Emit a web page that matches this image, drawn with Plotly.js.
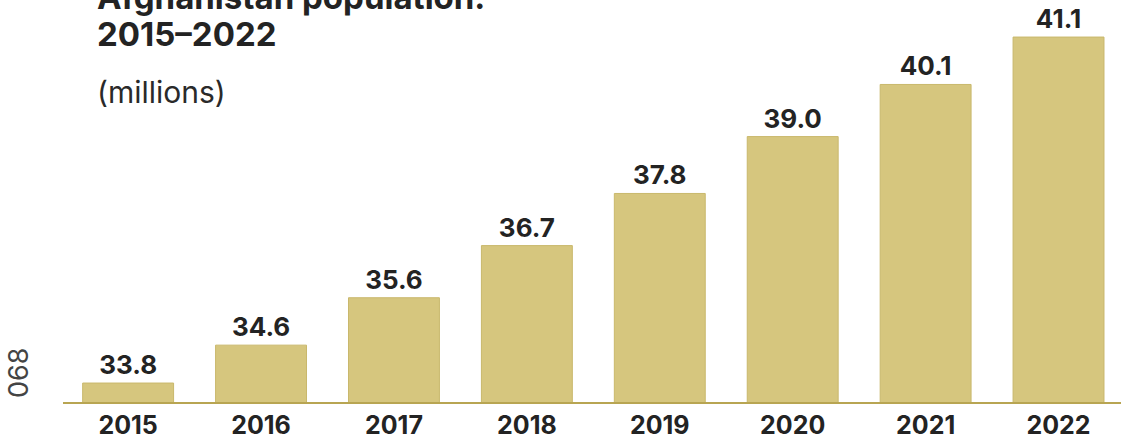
<!DOCTYPE html>
<html>
<head>
<meta charset="utf-8">
<script src="https://cdn.plot.ly/plotly-3.0.1.min.js"></script>
<style>html,body{margin:0;padding:0;background:#fff;}#chart{width:1121px;height:441px;}</style>
</head>
<body>
<div id="chart"></div>
<script>
const years = ["2015","2016","2017","2018","2019","2020","2021","2022"];
const population = [33.8, 34.6, 35.6, 36.7, 37.8, 39.0, 40.1, 41.1];
const valueLabels = ["33.8","34.6","35.6","36.7","37.8","39.0","40.1","41.1"];

const FONT = "Inter, 'Open Sans', sans-serif";
const PLOT_TOP = 20, PLOT_BOTTOM = 402, PLOT_LEFT = 63, PLOT_W = 1058;
const py = p => (PLOT_BOTTOM - p) / (PLOT_BOTTOM - PLOT_TOP);
const px = p => (p - PLOT_LEFT) / PLOT_W;

const trace = {
  type: 'bar',
  x: years,
  y: population,
  text: valueLabels,
  textposition: 'outside',
  cliponaxis: false,
  textfont: {family: FONT, size: 26, color: '#232323', weight: 700},
  marker: {color: '#d6c67e', line: {color: '#c9b86c', width: 1}},
  hoverinfo: 'none'
};

const layout = {
  width: 1121, height: 441,
  margin: {l: PLOT_LEFT, r: 0, t: PLOT_TOP, b: 441 - PLOT_BOTTOM},
  paper_bgcolor: '#ffffff', plot_bgcolor: '#ffffff',
  bargap: 0.316,
  showlegend: false,
  xaxis: {
    type: 'category',
    range: [-0.49, 7.47],
    showgrid: false, zeroline: false,
    showline: true, linecolor: '#b8a552', linewidth: 2,
    ticks: '', ticklabelstandoff: 0,
    tickfont: {family: FONT, size: 25, color: '#232323', weight: 700}
  },
  yaxis: {
    range: [33.4, 41.46],
    visible: false, showgrid: false, zeroline: false, fixedrange: true
  },
  annotations: [
    {text: 'Afghanistan population:', xref: 'paper', yref: 'paper', x: px(95), y: py(-3), xanchor: 'left', yanchor: 'middle', showarrow: false,
     font: {family: FONT, size: 33, color: '#232323', weight: 700}},
    {text: '2015–2022', xref: 'paper', yref: 'paper', x: px(95), y: py(34), xanchor: 'left', yanchor: 'middle', showarrow: false,
     font: {family: FONT, size: 33, color: '#232323', weight: 700}},
    {text: '(millions)', xref: 'paper', yref: 'paper', x: px(95), y: py(92), xanchor: 'left', yanchor: 'middle', showarrow: false,
     font: {family: FONT, size: 30, color: '#2a2a2a', weight: 400}},
    {text: '068', xref: 'paper', yref: 'paper', x: px(18), y: py(373), xanchor: 'center', yanchor: 'middle', showarrow: false, textangle: -90,
     font: {family: FONT, size: 27, color: '#444444', weight: 400}}
  ]
};

Plotly.newPlot('chart', [trace], layout, {displayModeBar: false, staticPlot: true});
</script>
</body>
</html>
